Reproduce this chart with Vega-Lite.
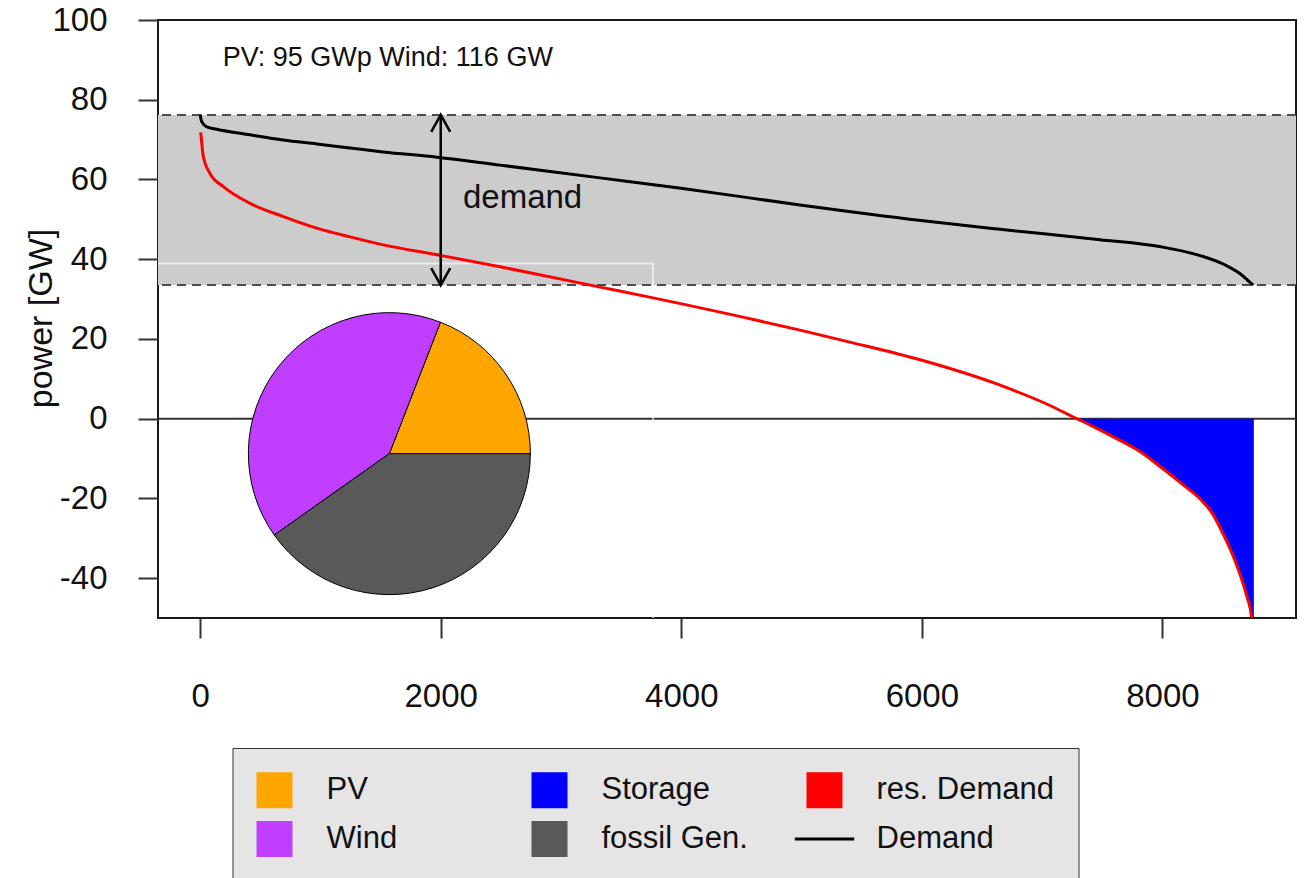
{
  "$schema": "https://vega.github.io/schema/vega-lite/v6.json",
  "width": 1138,
  "height": 598,
  "autosize": {"type": "none"},
  "padding": {"left": 158, "top": 20, "right": 11, "bottom": 260},
  "background": "white",
  "config": {
    "font": "Liberation Sans",
    "view": {"stroke": "#1a1a1a", "strokeWidth": 2},
    "axis": {
      "domain": false,
      "grid": false,
      "ticks": true,
      "tickSize": 20,
      "tickWidth": 2,
      "tickColor": "#333333",
      "labelFont": "Liberation Sans",
      "labelFontSize": 33,
      "labelColor": "#111111",
      "labelFlush": false,
      "labelOverlap": false,
      "labelBound": false,
      "labelExpr": "'' + datum.value",
      "titleFont": "Liberation Sans",
      "titleFontWeight": "normal",
      "titleColor": "#111111"
    },
    "axisX": {"labelPadding": 42},
    "axisY": {
      "labelPadding": 31,
      "titleFontSize": 34,
      "titleX": -100,
      "titleY": 298,
      "titleAngle": 270,
      "titleBaseline": "bottom",
      "titleAlign": "center"
    }
  },
  "datasets": {
    "band": [{"lo": 33.5, "hi": 76.2, "zero": 0, "ax": 2000}],
    "frame": [{"x0": -1000, "x1": 3765, "y0": 38.9, "y1": -70}],
    "pie": [
      {"cx": 1573, "cy": -8.77, "share": 0.191, "series": "PV", "k": 1},
      {"cx": 1573, "cy": -8.77, "share": 0.407, "series": "Wind", "k": 2},
      {"cx": 1573, "cy": -8.77, "share": 0.402, "series": "fossil Gen.", "k": 3}
    ],
    "storage": [
      {"x": 7287, "y": 0, "series": "Storage"},
      {"x": 7400, "y": -1.6, "series": "Storage"},
      {"x": 7619, "y": -5.0, "series": "Storage"},
      {"x": 7800, "y": -8.0, "series": "Storage"},
      {"x": 7980, "y": -12.0, "series": "Storage"},
      {"x": 8160, "y": -16.3, "series": "Storage"},
      {"x": 8340, "y": -21.0, "series": "Storage"},
      {"x": 8420, "y": -24.0, "series": "Storage"},
      {"x": 8478, "y": -27.3, "series": "Storage"},
      {"x": 8550, "y": -31.8, "series": "Storage"},
      {"x": 8617, "y": -36.7, "series": "Storage"},
      {"x": 8660, "y": -40.4, "series": "Storage"},
      {"x": 8700, "y": -44.4, "series": "Storage"},
      {"x": 8742, "y": -50.1, "series": "Storage"},
      {"x": 8760, "y": -56, "series": "Storage"}
    ],
    "curves": [
      {"x": 0, "y": 76.3, "series": "Demand"},
      {"x": 13, "y": 74.5, "series": "Demand"},
      {"x": 55, "y": 73.2, "series": "Demand"},
      {"x": 138, "y": 72.6, "series": "Demand"},
      {"x": 415, "y": 71.2, "series": "Demand"},
      {"x": 689, "y": 69.9, "series": "Demand"},
      {"x": 971, "y": 68.9, "series": "Demand"},
      {"x": 1245, "y": 67.9, "series": "Demand"},
      {"x": 1520, "y": 66.9, "series": "Demand"},
      {"x": 1969, "y": 65.6, "series": "Demand"},
      {"x": 2493, "y": 63.6, "series": "Demand"},
      {"x": 3325, "y": 60.4, "series": "Demand"},
      {"x": 3997, "y": 57.8, "series": "Demand"},
      {"x": 4987, "y": 53.6, "series": "Demand"},
      {"x": 5993, "y": 49.7, "series": "Demand"},
      {"x": 6650, "y": 47.5, "series": "Demand"},
      {"x": 7481, "y": 44.9, "series": "Demand"},
      {"x": 7988, "y": 43.1, "series": "Demand"},
      {"x": 8313, "y": 40.9, "series": "Demand"},
      {"x": 8519, "y": 38.6, "series": "Demand"},
      {"x": 8644, "y": 36.4, "series": "Demand"},
      {"x": 8728, "y": 34.2, "series": "Demand"},
      {"x": 8755, "y": 33.5, "series": "Demand"},
      {"x": 5, "y": 71.8, "series": "res. Demand"},
      {"x": 27, "y": 65.7, "series": "res. Demand"},
      {"x": 82, "y": 61.5, "series": "res. Demand"},
      {"x": 193, "y": 58.2, "series": "res. Demand"},
      {"x": 415, "y": 54.0, "series": "res. Demand"},
      {"x": 692, "y": 50.7, "series": "res. Demand"},
      {"x": 969, "y": 47.8, "series": "res. Demand"},
      {"x": 1246, "y": 45.6, "series": "res. Demand"},
      {"x": 1523, "y": 43.6, "series": "res. Demand"},
      {"x": 2008, "y": 40.9, "series": "res. Demand"},
      {"x": 2493, "y": 38.1, "series": "res. Demand"},
      {"x": 3325, "y": 33.0, "series": "res. Demand"},
      {"x": 3765, "y": 30.3, "series": "res. Demand"},
      {"x": 4987, "y": 22.2, "series": "res. Demand"},
      {"x": 5402, "y": 19.2, "series": "res. Demand"},
      {"x": 5993, "y": 14.7, "series": "res. Demand"},
      {"x": 6650, "y": 8.4, "series": "res. Demand"},
      {"x": 7065, "y": 3.3, "series": "res. Demand"},
      {"x": 7287, "y": 0, "series": "res. Demand"},
      {"x": 7400, "y": -1.6, "series": "res. Demand"},
      {"x": 7619, "y": -5.0, "series": "res. Demand"},
      {"x": 7800, "y": -8.0, "series": "res. Demand"},
      {"x": 7980, "y": -12.0, "series": "res. Demand"},
      {"x": 8160, "y": -16.3, "series": "res. Demand"},
      {"x": 8340, "y": -21.0, "series": "res. Demand"},
      {"x": 8420, "y": -24.0, "series": "res. Demand"},
      {"x": 8478, "y": -27.3, "series": "res. Demand"},
      {"x": 8550, "y": -31.8, "series": "res. Demand"},
      {"x": 8617, "y": -36.7, "series": "res. Demand"},
      {"x": 8660, "y": -40.4, "series": "res. Demand"},
      {"x": 8700, "y": -44.4, "series": "res. Demand"},
      {"x": 8742, "y": -50.1, "series": "res. Demand"},
      {"x": 8760, "y": -56, "series": "res. Demand"}
    ],
    "notes": [
      {"x": 2185, "y": 52.9, "label": "demand", "kind": "big"},
      {"x": 188, "y": 88.5, "label": "PV: 95 GWp Wind: 116 GW", "kind": "small"}
    ]
  },
  "layer": [
    {
      "data": {"name": "band"},
      "mark": {"type": "rect", "fill": "#cccccc"},
      "encoding": {
        "y": {"field": "lo", "type": "quantitative", "scale": {"domain": [-50, 100], "nice": false, "zero": false}, "axis": {"title": "power [GW]", "values": [-40, -20, 0, 20, 40, 60, 80, 100]}},
        "y2": {"field": "hi"}
      }
    },
    {
      "data": {"name": "band"},
      "mark": {"type": "rule", "color": "#4d4d4d", "strokeWidth": 2, "strokeDash": [9, 6]},
      "encoding": {
        "y": {"field": "hi", "type": "quantitative", "scale": {"domain": [-50, 100], "nice": false, "zero": false}, "axis": {"title": "power [GW]", "values": [-40, -20, 0, 20, 40, 60, 80, 100]}}
      }
    },
    {
      "data": {"name": "band"},
      "mark": {"type": "rule", "color": "#4d4d4d", "strokeWidth": 2, "strokeDash": [9, 6]},
      "encoding": {
        "y": {"field": "lo", "type": "quantitative", "scale": {"domain": [-50, 100], "nice": false, "zero": false}, "axis": {"title": "power [GW]", "values": [-40, -20, 0, 20, 40, 60, 80, 100]}}
      }
    },
    {
      "data": {"name": "band"},
      "mark": {"type": "rule", "color": "#333333", "strokeWidth": 2},
      "encoding": {
        "y": {"field": "zero", "type": "quantitative", "scale": {"domain": [-50, 100], "nice": false, "zero": false}, "axis": {"title": "power [GW]", "values": [-40, -20, 0, 20, 40, 60, 80, 100]}}
      }
    },
    {
      "data": {"name": "frame"},
      "mark": {"type": "rect", "fill": null, "fillOpacity": 0, "stroke": "#ffffff", "strokeWidth": 2, "strokeOpacity": 0.6, "clip": true},
      "encoding": {
        "x": {"field": "x0", "type": "quantitative", "scale": {"domain": [-350.4, 9110.4], "nice": false, "zero": false}, "axis": {"title": null, "values": [0, 2000, 4000, 6000, 8000]}},
        "x2": {"field": "x1"},
        "y": {"field": "y0", "type": "quantitative", "scale": {"domain": [-50, 100], "nice": false, "zero": false}, "axis": {"title": "power [GW]", "values": [-40, -20, 0, 20, 40, 60, 80, 100]}},
        "y2": {"field": "y1"}
      }
    },
    {
      "data": {"name": "pie"},
      "mark": {"type": "arc", "outerRadius": 141, "stroke": "#000000", "strokeWidth": 1},
      "encoding": {
        "x": {"field": "cx", "type": "quantitative", "scale": {"domain": [-350.4, 9110.4], "nice": false, "zero": false}, "axis": {"title": null, "values": [0, 2000, 4000, 6000, 8000]}},
        "y": {"field": "cy", "type": "quantitative", "scale": {"domain": [-50, 100], "nice": false, "zero": false}, "axis": {"title": "power [GW]", "values": [-40, -20, 0, 20, 40, 60, 80, 100]}},
        "theta": {"field": "share", "type": "quantitative", "stack": true, "scale": {"range": [1.5707963, -4.712389]}},
        "order": {"field": "k", "type": "quantitative"},
        "color": {
          "field": "series",
          "type": "nominal",
          "scale": {
            "domain": ["PV", "Storage", "res. Demand", "Wind", "fossil Gen.", "Demand"],
            "range": ["#FFA500", "#0000FF", "#FF0000", "#BF3EFF", "#595959", "#000000"]
          },
          "legend": {
            "title": null,
            "orient": "none",
            "legendX": 74.5,
            "legendY": 728,
            "direction": "horizontal",
            "columns": 3,
            "gridAlign": "all",
            "columnPadding": 9,
            "rowPadding": 3,
            "padding": 24,
            "symbolSize": 1089,
            "labelFont": "Liberation Sans",
            "labelFontSize": 31,
            "labelColor": "#111111",
            "labelOffset": 34,
            "labelLimit": 400,
            "fillColor": "#e5e5e5",
            "strokeColor": "#333333",
            "cornerRadius": 0,
            "encoding": {
              "symbols": {
                "shape": {"value": {"expr": "datum.value === 'Demand' ? 'M-1.8,0H1.8' : 'square'"}},
                "fill": {"value": {"expr": "datum.value === 'Demand' ? 'transparent' : scale('color', datum.value)"}},
                "stroke": {"value": {"expr": "datum.value === 'Demand' ? '#000000' : 'transparent'"}},
                "strokeWidth": {"value": 3},
                "opacity": {"value": 1},
                "fillOpacity": {"value": 1},
                "strokeOpacity": {"value": 1}
              }
            }
          }
        }
      }
    },
    {
      "data": {"name": "storage"},
      "mark": {"type": "area", "interpolate": "monotone", "clip": true, "opacity": 1},
      "encoding": {
        "x": {"field": "x", "type": "quantitative", "scale": {"domain": [-350.4, 9110.4], "nice": false, "zero": false}, "axis": {"title": null, "values": [0, 2000, 4000, 6000, 8000]}},
        "y": {"field": "y", "type": "quantitative", "scale": {"domain": [-50, 100], "nice": false, "zero": false}, "axis": {"title": "power [GW]", "values": [-40, -20, 0, 20, 40, 60, 80, 100]}},
        "y2": {"datum": 0},
        "color": {"field": "series", "type": "nominal", "scale": {"domain": ["PV", "Storage", "res. Demand", "Wind", "fossil Gen.", "Demand"], "range": ["#FFA500", "#0000FF", "#FF0000", "#BF3EFF", "#595959", "#000000"]}}
      }
    },
    {
      "data": {"name": "curves"},
      "mark": {"type": "line", "strokeWidth": 3, "interpolate": "monotone", "clip": true},
      "encoding": {
        "x": {"field": "x", "type": "quantitative", "scale": {"domain": [-350.4, 9110.4], "nice": false, "zero": false}, "axis": {"title": null, "values": [0, 2000, 4000, 6000, 8000]}},
        "y": {"field": "y", "type": "quantitative", "scale": {"domain": [-50, 100], "nice": false, "zero": false}, "axis": {"title": "power [GW]", "values": [-40, -20, 0, 20, 40, 60, 80, 100]}},
        "color": {"field": "series", "type": "nominal", "scale": {"domain": ["PV", "Storage", "res. Demand", "Wind", "fossil Gen.", "Demand"], "range": ["#FFA500", "#0000FF", "#FF0000", "#BF3EFF", "#595959", "#000000"]}}
      }
    },
    {
      "data": {"name": "band"},
      "mark": {"type": "rule", "color": "#000000", "strokeWidth": 2.5},
      "encoding": {
        "x": {"field": "ax", "type": "quantitative", "scale": {"domain": [-350.4, 9110.4], "nice": false, "zero": false}, "axis": {"title": null, "values": [0, 2000, 4000, 6000, 8000]}},
        "y": {"field": "lo", "type": "quantitative", "scale": {"domain": [-50, 100], "nice": false, "zero": false}, "axis": {"title": "power [GW]", "values": [-40, -20, 0, 20, 40, 60, 80, 100]}},
        "y2": {"field": "hi"}
      }
    },
    {
      "data": {"name": "band"},
      "mark": {"type": "point", "shape": "M-0.95,1.7L0,0L0.95,1.7", "size": 400, "filled": false, "stroke": "#000000", "strokeWidth": 2.5, "opacity": 1},
      "encoding": {
        "x": {"field": "ax", "type": "quantitative", "scale": {"domain": [-350.4, 9110.4], "nice": false, "zero": false}, "axis": {"title": null, "values": [0, 2000, 4000, 6000, 8000]}},
        "y": {"field": "hi", "type": "quantitative", "scale": {"domain": [-50, 100], "nice": false, "zero": false}, "axis": {"title": "power [GW]", "values": [-40, -20, 0, 20, 40, 60, 80, 100]}}
      }
    },
    {
      "data": {"name": "band"},
      "mark": {"type": "point", "shape": "M-0.95,-1.7L0,0L0.95,-1.7", "size": 400, "filled": false, "stroke": "#000000", "strokeWidth": 2.5, "opacity": 1},
      "encoding": {
        "x": {"field": "ax", "type": "quantitative", "scale": {"domain": [-350.4, 9110.4], "nice": false, "zero": false}, "axis": {"title": null, "values": [0, 2000, 4000, 6000, 8000]}},
        "y": {"field": "lo", "type": "quantitative", "scale": {"domain": [-50, 100], "nice": false, "zero": false}, "axis": {"title": "power [GW]", "values": [-40, -20, 0, 20, 40, 60, 80, 100]}}
      }
    },
    {
      "data": {"name": "notes"},
      "transform": [{"filter": "datum.kind === 'big'"}],
      "mark": {"type": "text", "align": "left", "baseline": "alphabetic", "fontSize": 33, "font": "Liberation Sans", "color": "#111111"},
      "encoding": {
        "x": {"field": "x", "type": "quantitative", "scale": {"domain": [-350.4, 9110.4], "nice": false, "zero": false}, "axis": {"title": null, "values": [0, 2000, 4000, 6000, 8000]}},
        "y": {"field": "y", "type": "quantitative", "scale": {"domain": [-50, 100], "nice": false, "zero": false}, "axis": {"title": "power [GW]", "values": [-40, -20, 0, 20, 40, 60, 80, 100]}},
        "text": {"field": "label"}
      }
    },
    {
      "data": {"name": "notes"},
      "transform": [{"filter": "datum.kind === 'small'"}],
      "mark": {"type": "text", "align": "left", "baseline": "alphabetic", "fontSize": 27, "font": "Liberation Sans", "color": "#111111"},
      "encoding": {
        "x": {"field": "x", "type": "quantitative", "scale": {"domain": [-350.4, 9110.4], "nice": false, "zero": false}, "axis": {"title": null, "values": [0, 2000, 4000, 6000, 8000]}},
        "y": {"field": "y", "type": "quantitative", "scale": {"domain": [-50, 100], "nice": false, "zero": false}, "axis": {"title": "power [GW]", "values": [-40, -20, 0, 20, 40, 60, 80, 100]}},
        "text": {"field": "label"}
      }
    }
  ]
}
